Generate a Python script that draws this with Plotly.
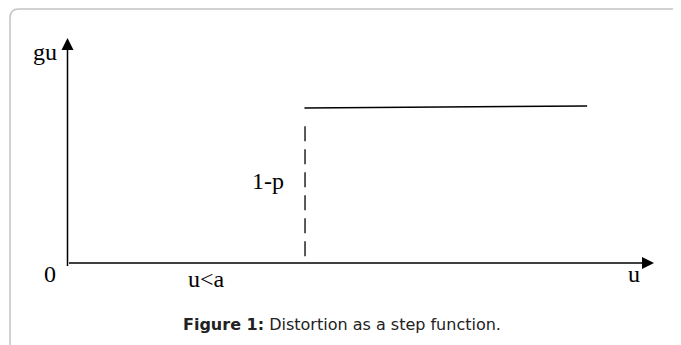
import plotly.graph_objects as go

# step function: jump at u = a, then flat level 1-p
u_jump = [4.05, 4.05]
gu_jump = [0.03, 0.64]
u_level = [4.04, 8.86]
gu_level = [0.689, 0.698]

# axes (drawn as arrows)
u_axis = [0, 10]
gu_axis = [-0.02, 1.0]

labels = ["gu", "0", "u<a", "1-p", "u"]
label_u = [-0.39, -0.29, 2.37, 3.41, 9.66]
label_gu = [0.94, -0.05, -0.07, 0.365, -0.05]

# the page body adds an 8px margin, so the figure is a bit smaller
OFF = 8
W, H = 681 - OFF, 345 - OFF
ML, MR, MT, MB = 2, 2, 2, 2
# pixel positions (in the page) of the origin and axis ends
X0, X10 = 67.5 - OFF, 654 - OFF
Y0, Y1 = 263 - OFF, 38 - OFF

sx = (X10 - X0) / 10
sy = (Y0 - Y1) / 1
x_range = [-(X0 - ML) / sx, 10 + (W - MR - X10) / sx]
y_range = [-(H - MB - Y0) / sy, 1 + (Y1 - MT) / sy]

pw, ph = W - ML - MR, H - MT - MB


def px(x):
    return (x - OFF - ML) / pw


def py(y):
    return (H - MB - (y - OFF)) / ph


fig = go.Figure()
fig.add_trace(go.Scatter(
    x=u_jump, y=gu_jump, mode="lines",
    line=dict(color="black", width=1.3, dash="15px,8px"),
    hoverinfo="skip"))
fig.add_trace(go.Scatter(
    x=u_level, y=gu_level, mode="lines",
    line=dict(color="black", width=1.5),
    hoverinfo="skip"))

# axis arrows
fig.add_annotation(x=u_axis[1], y=0, ax=u_axis[0], ay=0, xref="x", yref="y",
                   axref="x", ayref="y", text="", showarrow=True,
                   arrowhead=2, arrowwidth=1.5, arrowsize=1.6, arrowcolor="black")
fig.add_annotation(x=0, y=gu_axis[1], ax=0, ay=gu_axis[0], xref="x", yref="y",
                   axref="x", ayref="y", text="", showarrow=True,
                   arrowhead=2, arrowwidth=1.5, arrowsize=1.6, arrowcolor="black")

for t, xu, yg in zip(labels, label_u, label_gu):
    fig.add_annotation(x=xu, y=yg, xref="x", yref="y", text=t.replace("<", "&lt;"),
                       showarrow=False,
                       font=dict(family="Liberation Serif", size=24, color="black"))

fig.add_annotation(x=px(342), y=py(324), xref="paper", yref="paper",
                   xanchor="center", yanchor="middle",
                   text="<b>Figure 1:</b> Distortion as a step function.",
                   showarrow=False,
                   font=dict(family="DejaVu Sans", size=16, color="#222"))

# rounded frame
r = 9
path = (f"M {px(10)} {py(345 + 5)} L {px(10)} {py(9 + r)} "
        f"Q {px(10)} {py(9)} {px(10 + r)} {py(9)} L {px(681 + 5)} {py(9)}")
fig.add_shape(type="path", path=path, xref="paper", yref="paper",
              line=dict(color="#c4c4c4", width=1.5))

fig.update_layout(
    width=W, height=H,
    margin=dict(l=ML, r=MR, t=MT, b=MB),
    paper_bgcolor="white", plot_bgcolor="white",
    showlegend=False,
    xaxis=dict(range=x_range, visible=False, fixedrange=True),
    yaxis=dict(range=y_range, visible=False, fixedrange=True),
)

fig.write_html("out.html")
